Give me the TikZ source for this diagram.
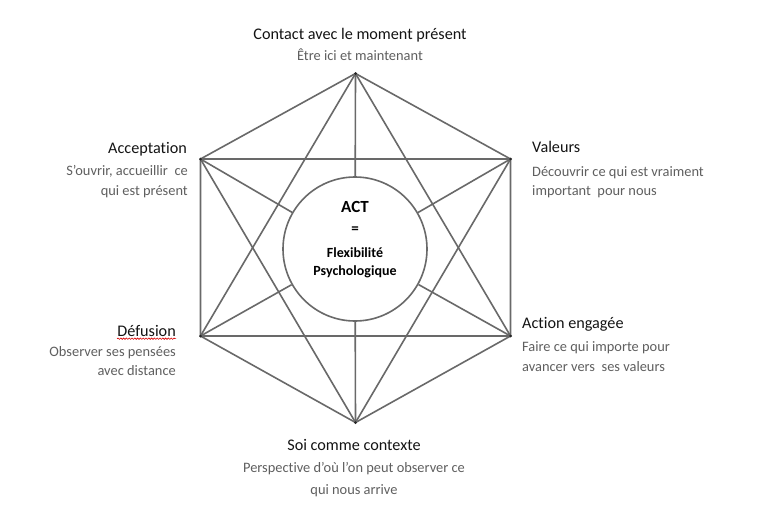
\documentclass[tikz,border=0pt]{standalone}
\usepackage{fontspec}
\setmainfont[Ligatures=NoCommon]{Carlito}
\usetikzlibrary{decorations.pathmorphing}
\definecolor{linec}{RGB}{105,105,105}
\definecolor{titc}{RGB}{20,20,20}
\definecolor{subc}{RGB}{95,95,95}
\begin{document}
\begin{tikzpicture}[x=1pt,y=-1pt,
  edge/.style={draw=linec,line width=1.6pt,line join=round},
  vdot/.style={circle,fill=black!85,inner sep=0pt,minimum size=3pt},
  ttl/.style={font=\fontsize{16.2}{18}\selectfont,text=titc,inner sep=0pt},
  sub/.style={font=\fontsize{14.4}{16}\selectfont,text=subc,inner sep=0pt},
  ctr/.style={font=\fontsize{14}{16}\selectfont\bfseries,text=black,inner sep=0pt},
]
\useasboundingbox (0,0) rectangle (768,509);
\fill[white] (0,0) rectangle (768,509);

% vertices
\coordinate (T)  at (355.5,73.5);
\coordinate (UR) at (510.5,159);
\coordinate (LR) at (510.5,336);
\coordinate (B)  at (355.5,422.5);
\coordinate (LL) at (200.5,336);
\coordinate (UL) at (200.5,159);

% central circle
\node[circle,draw=linec,line width=1.6pt,minimum size=144pt,inner sep=0pt] (C) at (355,249) {};

% hexagon
\draw[edge] (T) -- (UR) -- (LR) -- (B) -- (LL) -- (UL) -- cycle;
% horizontal lines
\draw[edge] (UL) -- (UR);
\draw[edge] (LL) -- (LR);
% triangles
\draw[edge] (T) -- (LR) -- (LL) -- cycle;
\draw[edge] (B) -- (UL) -- (UR) -- cycle;
% spokes to the circle
\foreach \v in {T,UR,LR,B,LL,UL} { \draw[edge] (\v) -- (C); }
% vertex dots
\foreach \v in {T,UR,LR,B,LL,UL} { \node[vdot] (d\v) at (\v) {}; }

% centre text
\node[ctr,font=\fontsize{17}{19}\selectfont\bfseries,anchor=mid] (act) at (355,210) {ACT};
\node[ctr,font=\fontsize{15}{17}\selectfont\bfseries,anchor=mid] (eq) at (355,231) {=};
\node[ctr,anchor=mid] (flex) at (355,255.5) {Flexibilité};
\node[ctr,anchor=mid] (psy) at (355,273.5) {Psychologique};

% top
\node[ttl,anchor=mid] (t1) at (360,37) {Contact avec le moment présent};
\node[sub,anchor=mid] (t2) at (360,58.5) {Être ici et maintenant};

% upper left
\node[ttl,anchor=mid east] (ul1) at (187,151.5) {Acceptation};
\node[sub,anchor=mid east] (ul2) at (188,173.5) {S’ouvrir, accueillir\ \ ce};
\node[sub,anchor=mid east] (ul3) at (188,193.5) {qui est présent};

% upper right
\node[ttl,anchor=mid west] (ur1) at (532,150.5) {Valeurs};
\node[sub,anchor=mid west] (ur2) at (532,174.5) {Découvrir ce qui est vraiment};
\node[sub,anchor=mid west] (ur3) at (532,193.5) {important\ \ pour nous};

% lower left
\node[ttl,anchor=mid east] (ll1) at (176,334.5) {Défusion};
\node[sub,anchor=mid east] (ll2) at (176,354.5) {Observer ses pensées};
\node[sub,anchor=mid east] (ll3) at (176,373.5) {avec distance};
\draw[red!85!black,line width=0.6pt,decorate,decoration={snake,amplitude=0.7pt,segment length=2.8pt}]
  ([yshift=-1.8pt]ll1.base west) -- ([yshift=-1.8pt]ll1.base east);

% lower right
\node[ttl,anchor=mid west] (lr1) at (522,326.5) {Action engagée};
\node[sub,anchor=mid west] (lr2) at (522,349.5) {Faire ce qui importe pour};
\node[sub,anchor=mid west] (lr3) at (522,369.5) {avancer vers\ \ ses valeurs};

% bottom
\node[ttl,anchor=mid] (b1) at (354,448.5) {Soi comme contexte};
\node[sub,anchor=mid] (b2) at (354,470.5) {Perspective d’où l’on peut observer ce};
\node[sub,anchor=mid] (b3) at (354,492.5) {qui nous arrive};
\end{tikzpicture}
\end{document}
